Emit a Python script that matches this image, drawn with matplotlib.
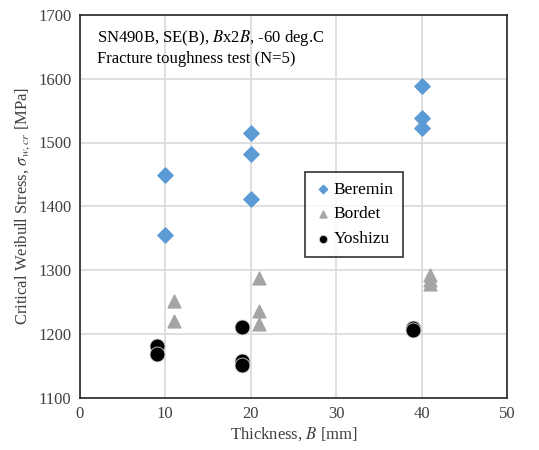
import numpy as np
import matplotlib.pyplot as plt

plt.rcParams['font.family'] = ['Liberation Serif', 'DejaVu Serif']
plt.rcParams['mathtext.fontset'] = 'stix'

# data
beremin_x = [10, 10, 20, 20, 20, 40, 40, 40]
beremin_y = [1449, 1355, 1515, 1482, 1412, 1588, 1539, 1522]
bordet_x = [11, 11, 21, 21, 21, 41, 41, 41]
bordet_y = [1252, 1220, 1287, 1236, 1216, 1293, 1285, 1279]
yoshizu_x = [9, 9, 19, 19, 19, 39, 39]
yoshizu_y = [1181, 1169, 1211, 1157, 1151, 1210, 1206]

x_ticks = [0, 10, 20, 30, 40, 50]
y_ticks = [1100, 1200, 1300, 1400, 1500, 1600, 1700]

fig = plt.figure(figsize=(5.39, 4.5), dpi=100)
ax = fig.add_axes([0.148, 0.116, 0.793, 0.851])

ax.scatter(beremin_x, beremin_y, marker='D', s=60, color='#5b9bd5', label='Beremin', zorder=3)
ax.scatter(bordet_x, bordet_y, marker='^', s=85, color='#a5a5a5', label='Bordet', zorder=3)
ax.scatter(yoshizu_x, yoshizu_y, marker='o', s=115, color='black', edgecolor='#d0d0d0',
           linewidth=0.6, label='Yoshizu', zorder=3)

ax.set_xlim(0, 50)
ax.set_ylim(1100, 1700)
ax.set_xticks(x_ticks)
ax.set_yticks(y_ticks)
ax.grid(True, color='#d9d9d9', linewidth=1.2)
ax.set_axisbelow(True)
ax.tick_params(length=0, labelsize=12, pad=6, colors='#404040')
for sp in ax.spines.values():
    sp.set_linewidth(1.2)
    sp.set_color('#262626')

ax.set_xlabel('Thickness, $B$ [mm]', fontsize=12, color='#404040', labelpad=2)
ax.set_ylabel(r'Critical Weibull Stress, $\sigma_{w,cr}$ [MPa]', fontsize=12, color='#404040', labelpad=4)

ax.text(0.04, 0.94, 'SN490B, SE(B), $B$x2$B$, -60 deg.C', transform=ax.transAxes, fontsize=12, va='center')
ax.text(0.04, 0.885, 'Fracture toughness test (N=5)', transform=ax.transAxes, fontsize=12, va='center')

leg = ax.legend(loc='upper left', bbox_to_anchor=(0.527, 0.59), borderaxespad=0, fontsize=12.5,
                frameon=True, fancybox=False, edgecolor='black', markerscale=0.55, handletextpad=0.1,
                handlelength=1.0, borderpad=0.55, labelspacing=0.5)
leg.get_frame().set_linewidth(1.2)

fig.savefig('out.png', dpi=100)
